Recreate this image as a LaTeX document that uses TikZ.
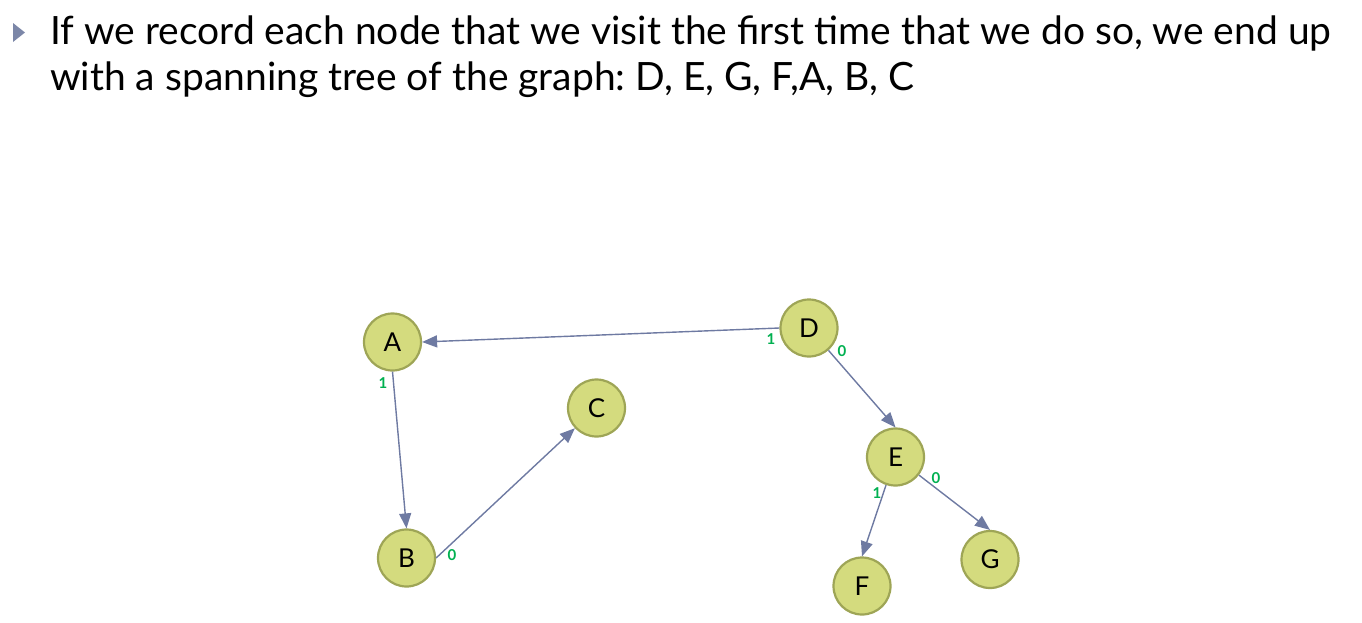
\documentclass[tikz,border=0pt]{standalone}
\usepackage{fontspec}
\setmainfont{Lato}
\usetikzlibrary{arrows.meta}
\definecolor{nodefill}{HTML}{D4DB7E}
\definecolor{nodedraw}{HTML}{9EA556}
\definecolor{edgecol}{HTML}{6E7AA2}
\definecolor{labcol}{HTML}{00B050}
\definecolor{bulletcol}{HTML}{7C87A8}
\tikzset{
  vert/.style={circle, fill=nodefill, draw=nodedraw, line width=2.2pt, minimum size=57pt, inner sep=0pt, font=\fontsize{26}{26}\selectfont},
  edge/.style={draw=edgecol, line width=1.4pt, -{Triangle[length=15pt, width=12pt]}},
  elab/.style={text=labcol, font=\fontsize{15}{15}\selectfont\bfseries, inner sep=0pt},
  bodytext/.style={anchor=base west, inner sep=0pt, font=\fontsize{39}{39}\selectfont}
}
\frenchspacing
\begin{document}
\begin{tikzpicture}[x=1pt, y=-1pt]
\useasboundingbox (0,0) rectangle (1362,622);
\fill[bulletcol] (13,23) -- (25,32.5) -- (13,42) -- cycle;
\node[bodytext] (l1) at (50,44) {If we record each node that we visit the first time that we do so, we end up};
\node[bodytext] (l2) at (50,90) {with a spanning tree of the graph: D, E, G, F,A, B, C};
\node[vert] (A) at (392.5,342) {A};
\node[vert] (B) at (406.5,558) {B};
\node[vert] (C) at (596.5,408) {C};
\node[vert] (D) at (809,328) {D};
\node[vert] (E) at (895.5,457) {E};
\node[vert] (F) at (862,586) {F};
\node[vert] (G) at (990,559.5) {G};
\draw[edge] (D.west) -- (A.east);
\draw[edge] (A.south) -- (B.north);
\draw[edge] (B.east) -- (C);
\draw[edge] (D) -- (E.north);
\draw[edge] (E) -- (F.north);
\draw[edge] (E) -- (G.north);
\node[elab] (lA) at (383,383) {1};
\node[elab] (lB) at (452,555) {0};
\node[elab] (lD1) at (771,339) {1};
\node[elab] (lD0) at (842,351) {0};
\node[elab] (lE1) at (877,493) {1};
\node[elab] (lE0) at (936,478) {0};
\end{tikzpicture}
\end{document}
